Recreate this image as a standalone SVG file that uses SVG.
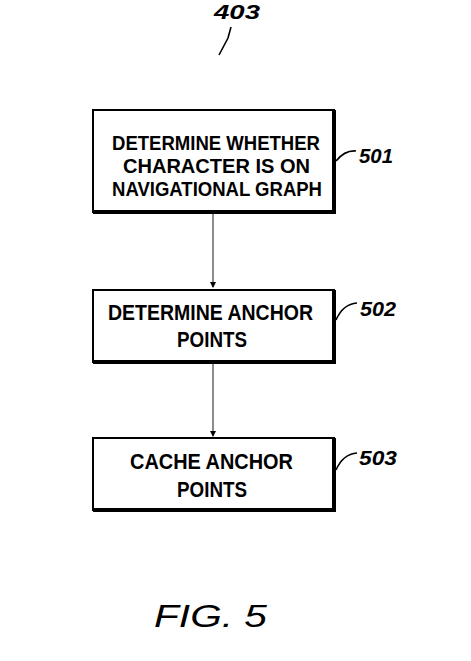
<svg xmlns="http://www.w3.org/2000/svg" width="471" height="661" viewBox="0 0 471 661">
<style>
.box{fill:#fff;stroke:#000;stroke-width:2}
.shadow{fill:none;stroke:#000;stroke-width:4}
.t{font-family:"Liberation Sans",Arial,sans-serif;font-weight:bold;font-size:22px;fill:#000;text-anchor:middle}
.t1{font-size:20px}
.ref{font-family:"Liberation Sans",Arial,sans-serif;font-weight:bold;font-style:italic;font-size:21px;fill:#000}
.lead{fill:none;stroke:#000;stroke-width:1.6}
.conn{stroke:#666;stroke-width:1.5;fill:none}
</style>
<defs>
<marker id="ah" markerWidth="6" markerHeight="8" refX="5" refY="4" orient="auto" markerUnits="userSpaceOnUse">
<path d="M0,1 L6,4 L0,7 Z" fill="#000"/>
</marker>
</defs>
<rect width="471" height="661" fill="#fff"/>
<g id="label403">
<text class="ref" x="214" y="19" font-size="20" textLength="46" lengthAdjust="spacingAndGlyphs">403</text>
<path class="lead" d="M231,27 L228,38 L219,55"/>
</g>
<g id="connectors">
<line class="conn" x1="213" y1="214" x2="213" y2="287" marker-end="url(#ah)"/>
<line class="conn" x1="213" y1="364" x2="213" y2="436" marker-end="url(#ah)"/>
</g>
<g id="n501">
<rect class="box" x="93" y="110" width="241" height="102"/>
<polyline class="shadow" points="334,110 334,212 93,212"/>
<text class="t t1" x="216" y="149.5" textLength="208" lengthAdjust="spacingAndGlyphs">DETERMINE WHETHER</text>
<text class="t t1" x="216.5" y="172.5" textLength="187" lengthAdjust="spacingAndGlyphs">CHARACTER IS ON</text>
<text class="t t1" x="217" y="195.5" textLength="210" lengthAdjust="spacingAndGlyphs">NAVIGATIONAL GRAPH</text>
<path class="lead" d="M336,161 Q345,150 356,151"/>
<text class="ref" x="359" y="163" textLength="34" lengthAdjust="spacingAndGlyphs">501</text>
</g>
<g id="n502">
<rect class="box" x="93" y="290" width="241" height="72"/>
<polyline class="shadow" points="334,290 334,362 93,362"/>
<text class="t" x="210.5" y="320" textLength="205" lengthAdjust="spacingAndGlyphs">DETERMINE ANCHOR</text>
<text class="t" x="212" y="347" textLength="70" lengthAdjust="spacingAndGlyphs">POINTS</text>
<path class="lead" d="M336,320 Q343,304 357,303"/>
<text class="ref" x="360" y="316" textLength="36" lengthAdjust="spacingAndGlyphs">502</text>
</g>
<g id="n503">
<rect class="box" x="93" y="438" width="241" height="72"/>
<polyline class="shadow" points="334,438 334,510 93,510"/>
<text class="t" x="211.5" y="468.5" textLength="163" lengthAdjust="spacingAndGlyphs">CACHE ANCHOR</text>
<text class="t" x="212" y="497" textLength="70" lengthAdjust="spacingAndGlyphs">POINTS</text>
<path class="lead" d="M336,470 Q343,454 357,453"/>
<text class="ref" x="359" y="465" textLength="38" lengthAdjust="spacingAndGlyphs">503</text>
</g>
<g id="caption">
<text x="154" y="627" font-family="Liberation Sans, Arial, sans-serif" font-style="italic" font-size="31" textLength="113" lengthAdjust="spacingAndGlyphs">FIG. 5</text>
</g>
</svg>
